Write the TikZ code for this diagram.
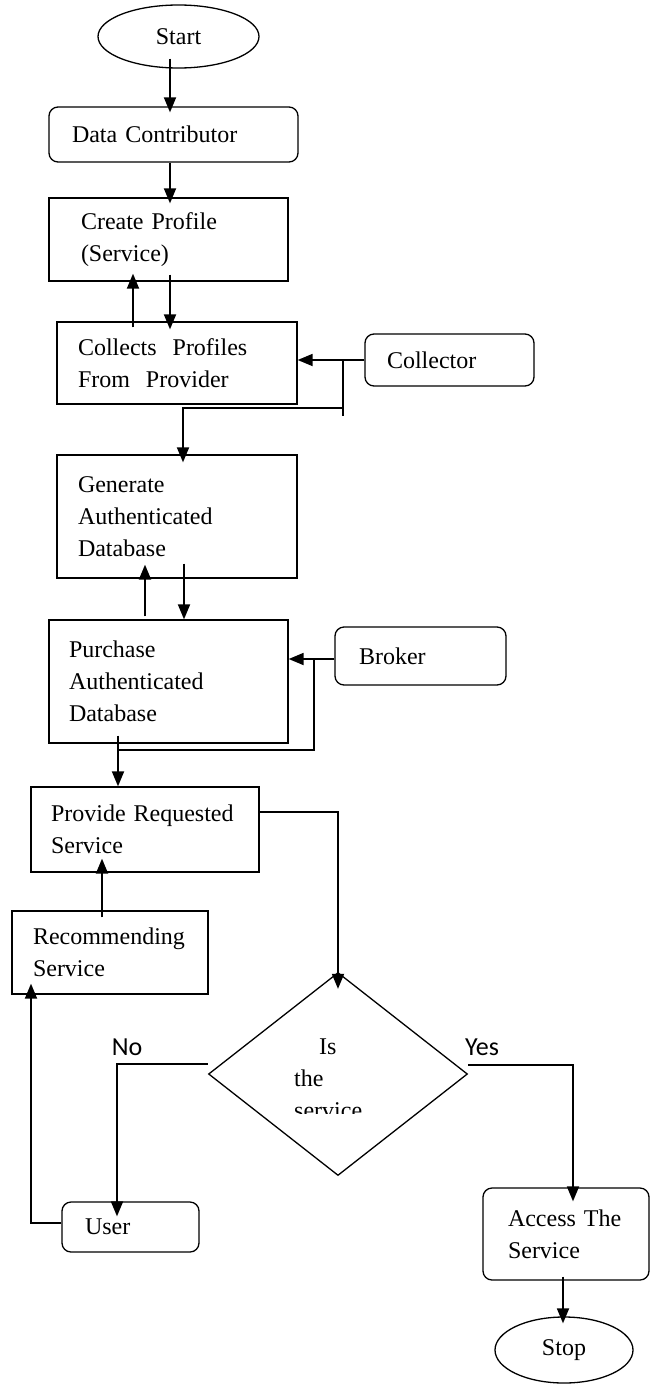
\documentclass[tikz,border=0pt]{standalone}
\usepackage{fontspec}
\setmainfont{Liberation Serif}
\newfontfamily\yesnofont{Carlito}
\usetikzlibrary{shapes.geometric,arrows.meta}

\begin{document}
\begin{tikzpicture}[
                x=1pt, y=-1pt,
                >={Triangle[length=15pt,width=12pt]},
                font={\fontsize{24pt}{32pt}\selectfont},
                term/.style={ellipse, draw, line width=1.3pt, inner sep=0pt},
                proc/.style={rectangle, draw, line width=1.3pt, align=left, inner ysep=0pt},
                actor/.style={proc, rounded corners=9pt},
                decision/.style={diamond, draw, line width=1.3pt, inner sep=0pt},
                flow/.style={line width=1.8pt},
                arr/.style={flow, ->},
                answer/.style={font={\yesnofont\fontsize{26pt}{30pt}\selectfont}, inner sep=0pt}
                ]
            \useasboundingbox (0,0) rectangle (650,1384);
            % Nodes
            \node[term, minimum width=161pt, minimum height=63pt] (start) at (178.5,36.5) {Start};
            \node[actor, minimum height=55pt, text width=203pt, inner xsep=23pt] (dc) at (173.5,134.5) {Data Contributor};
            \node[proc, minimum height=83pt, text width=175pt, inner xsep=32pt] (cp) at (168.5,239.5) {Create Profile\\(Service)};
            \node[proc, minimum height=82pt, text width=198pt, inner xsep=21pt] (cl) at (177,363) {Collects~~Profiles\\From~~Provider};
            \node[actor, minimum height=52pt, text width=125pt, inner xsep=22pt] (col) at (449.5,360) {Collector};
            \node[proc, minimum height=123pt, text width=198pt, inner xsep=21pt] (gen) at (177,516.5) {Generate\\Authenticated\\Database};
            \node[proc, minimum height=123pt, text width=199pt, inner xsep=20pt] (pur) at (168.5,681.5) {Purchase\\Authenticated\\Database};
            \node[actor, minimum height=58pt, text width=123pt, inner xsep=24pt] (brk) at (420.5,656) {Broker};
            \node[proc, minimum height=85pt, text width=188pt, inner xsep=20pt] (prov) at (145,829.5) {Provide Requested\\Service};
            \node[proc, minimum height=83pt, text width=154pt, inner xsep=21pt] (rec) at (110,952.5) {Recommending\\Service};
            \node[decision, minimum width=259pt, minimum height=203pt] (dec) at (338,1074) {};
            \begin{scope}
            \clip (250,1000) rectangle (430,1113);
            \node[anchor=north west, align=left, inner sep=0pt] (qtext) at (294,1039) {\hspace*{25pt}Is\\the\\service};
            \end{scope}
            \node[actor, minimum height=50pt, text width=91pt, inner xsep=23pt] (user) at (130.5,1227) {User};
            \node[actor, minimum height=92pt, text width=116pt, inner xsep=25pt] (acc) at (566,1234) {Access The\\Service};
            \node[term, minimum width=138pt, minimum height=66pt] (stop) at (564,1350) {Stop};
            \node[answer] (no) at (127,1047) {No};
            \node[answer] (yes) at (482,1047) {Yes};
            % Junctions
            \coordinate (cjoin) at ([xshift=-21pt]col.west);
            \coordinate (bjoin) at ([xshift=-20pt,yshift=-3pt]brk.west);
            % Edges
            \draw[arr] ([xshift=-8.5pt,yshift=10pt]start.south) -- ([xshift=-3.5pt,yshift=-6pt]dc.north);
            \draw[arr] ([xshift=-3.5pt]dc.south) -- ([xshift=1.5pt,yshift=-6pt]cp.north);
            \draw[arr] ([xshift=-44pt,yshift=-6pt]cl.north) -- ([xshift=-35.5pt,yshift=8pt]cp.south);
            \draw[arr] ([xshift=1.5pt,yshift=7pt]cp.south) -- ([xshift=-7pt,yshift=-8pt]cl.north);
            \draw[arr] (col.west) -- (col.west -| cl.east);
            \draw[flow] (cjoin) -- ++(0,56);
            \draw[arr] ([yshift=-48pt]cjoin) -| ([xshift=6pt,yshift=-8pt]gen.north);
            \draw[arr] ([xshift=7pt,yshift=15pt]gen.south) -- ([xshift=15.5pt]pur.north);
            \draw[arr] ([xshift=-23.5pt,yshift=3pt]pur.north) -- ([xshift=-32pt,yshift=14pt]gen.south);
            \draw[arr] ([yshift=-3pt]brk.west) -- ([yshift=-3pt]brk.west -| pur.east);
            \draw[flow] (bjoin) |- ([xshift=-50.5pt,yshift=-6pt]pur.south);
            \draw[arr] ([xshift=-50.5pt,yshift=8pt]pur.south) -- ([xshift=-27pt]prov.north);
            \draw[arr] ([xshift=-8pt,yshift=-7pt]rec.north) -- ([xshift=-43pt,yshift=14pt]prov.south);
            \draw[arr] ([yshift=17.5pt]prov.east) -| ([yshift=-17pt]dec.north);
            \draw[arr] ([yshift=10pt]dec.west) -| ([xshift=-13.5pt,yshift=-15pt]user.north);
            \draw[arr] ([yshift=9pt]dec.east) -| ([xshift=7pt,yshift=-14pt]acc.north);
            \draw[arr] ([yshift=4pt]user.west) -| ([xshift=-79pt,yshift=11pt]rec.south);
            \draw[arr] ([xshift=-3pt,yshift=4pt]acc.south) -- ([xshift=-1pt,yshift=-7pt]stop.north);

            \end{tikzpicture}
\end{document}
